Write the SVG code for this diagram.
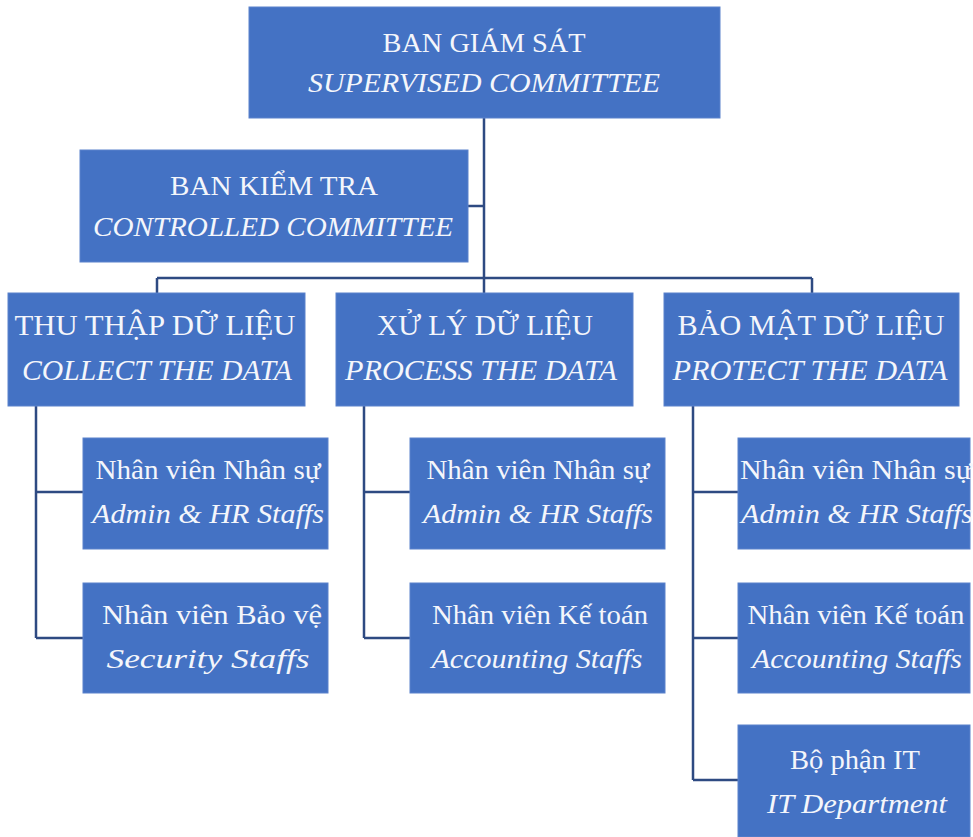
<svg xmlns="http://www.w3.org/2000/svg" width="973" height="837" viewBox="0 0 973 837">
<style>
.box{fill:#4472C4;stroke:#5B82CC;stroke-width:1}
.t{font-family:"Liberation Serif","Times New Roman",serif;fill:#F4F6FB;text-anchor:middle;font-size:28px}
.l2{font-size:30px}
.i{font-style:italic}
.c{fill:none;stroke:#2E4A82;stroke-width:2.5}
</style>
<rect width="973" height="837" fill="#FFFFFF"/>
<g id="connectors">
<path class="c" d="M484 118 V278 M468 206 H484 M157 278 H812 M157 278 V293 M484 278 V293 M812 278 V293"/>
<path class="c" d="M36 406 V638 M36 492 H83 M36 638 H83"/>
<path class="c" d="M364 406 V638 M364 492 H410 M364 638 H410"/>
<path class="c" d="M693 406 V780 M693 492 H738 M693 638 H738 M693 780 H738"/>
</g>
<g id="supervised">
<rect class="box" x="249" y="7" width="471" height="111"/>
<text class="t" x="484" y="52" textLength="203" lengthAdjust="spacingAndGlyphs">BAN GIÁM SÁT</text>
<text class="t i" x="484" y="92" textLength="352" lengthAdjust="spacingAndGlyphs">SUPERVISED COMMITTEE</text>
</g>
<g id="controlled">
<rect class="box" x="80" y="150" width="388" height="112"/>
<text class="t" x="274" y="195" textLength="208" lengthAdjust="spacingAndGlyphs">BAN KIỂM TRA</text>
<text class="t i" x="273" y="236" textLength="360" lengthAdjust="spacingAndGlyphs">CONTROLLED COMMITTEE</text>
</g>
<g id="collect">
<rect class="box" x="8" y="293" width="297" height="113"/>
<text class="t l2" x="155" y="335" textLength="281" lengthAdjust="spacingAndGlyphs">THU THẬP DỮ LIỆU</text>
<text class="t l2 i" x="157" y="380" textLength="270" lengthAdjust="spacingAndGlyphs">COLLECT THE DATA</text>
</g>
<g id="process">
<rect class="box" x="336" y="293" width="297" height="113"/>
<text class="t l2" x="485" y="335" textLength="216" lengthAdjust="spacingAndGlyphs">XỬ LÝ DỮ LIỆU</text>
<text class="t l2 i" x="481" y="380" textLength="272" lengthAdjust="spacingAndGlyphs">PROCESS THE DATA</text>
</g>
<g id="protect">
<rect class="box" x="664" y="293" width="295" height="113"/>
<text class="t l2" x="811" y="335" textLength="267" lengthAdjust="spacingAndGlyphs">BẢO MẬT DỮ LIỆU</text>
<text class="t l2 i" x="810" y="380" textLength="275" lengthAdjust="spacingAndGlyphs">PROTECT THE DATA</text>
</g>
<g id="collect-hr">
<rect class="box" x="83" y="438" width="245" height="111"/>
<text class="t" x="208" y="479" textLength="225" lengthAdjust="spacingAndGlyphs">Nhân viên Nhân sự</text>
<text class="t i" x="208" y="523" textLength="232" lengthAdjust="spacingAndGlyphs">Admin &amp; HR Staffs</text>
</g>
<g id="collect-security">
<rect class="box" x="83" y="583" width="245" height="110"/>
<text class="t" x="212" y="624" textLength="220" lengthAdjust="spacingAndGlyphs">Nhân viên Bảo vệ</text>
<text class="t i" x="208" y="668" textLength="203" lengthAdjust="spacingAndGlyphs">Security Staffs</text>
</g>
<g id="process-hr">
<rect class="box" x="410" y="438" width="255" height="111"/>
<text class="t" x="538" y="479" textLength="223" lengthAdjust="spacingAndGlyphs">Nhân viên Nhân sự</text>
<text class="t i" x="538" y="523" textLength="230" lengthAdjust="spacingAndGlyphs">Admin &amp; HR Staffs</text>
</g>
<g id="process-accounting">
<rect class="box" x="410" y="583" width="255" height="110"/>
<text class="t" x="540" y="624" textLength="216" lengthAdjust="spacingAndGlyphs">Nhân viên Kế toán</text>
<text class="t i" x="537" y="668" textLength="211" lengthAdjust="spacingAndGlyphs">Accounting Staffs</text>
</g>
<g id="protect-hr">
<rect class="box" x="738" y="438" width="232" height="111"/>
<text class="t" x="856" y="479" textLength="232" lengthAdjust="spacingAndGlyphs">Nhân viên Nhân sự</text>
<text class="t i" x="857" y="523" textLength="232" lengthAdjust="spacingAndGlyphs">Admin &amp; HR Staffs</text>
</g>
<g id="protect-accounting">
<rect class="box" x="738" y="583" width="232" height="110"/>
<text class="t" x="856" y="624" textLength="217" lengthAdjust="spacingAndGlyphs">Nhân viên Kế toán</text>
<text class="t i" x="857" y="668" textLength="210" lengthAdjust="spacingAndGlyphs">Accounting Staffs</text>
</g>
<g id="protect-it">
<rect class="box" x="738" y="725" width="232" height="112"/>
<text class="t" x="855" y="769" textLength="130" lengthAdjust="spacingAndGlyphs">Bộ phận IT</text>
<text class="t i" x="857" y="813" textLength="180" lengthAdjust="spacingAndGlyphs">IT Department</text>
</g>
</svg>
